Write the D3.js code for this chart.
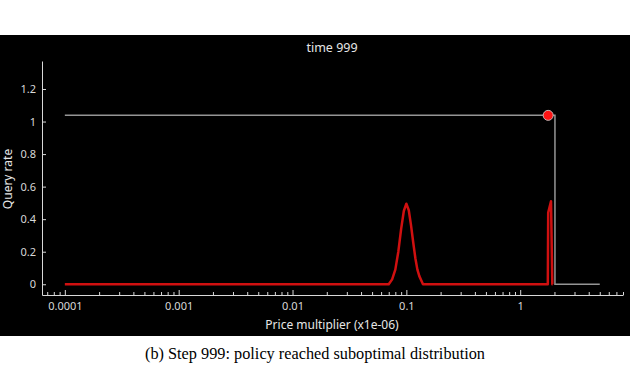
<!DOCTYPE html>
<html>
<head>
<meta charset="utf-8">
<script src="https://cdn.jsdelivr.net/npm/d3@7"></script>
<style>
  body { margin: 0; background: #fff; }
  svg { display: block; }
</style>
</head>
<body>
<div id="chart"></div>
<script>
'use strict';

// values
var xTickValues = [0.0001, 0.001, 0.01, 0.1, 1];
var xTickLabels = ["0.0001", "0.001", "0.01", "0.1", "1"];
var yTickValues = [0, 0.2, 0.4, 0.6, 0.8, 1, 1.2];
var yTickLabels = ["0", "0.2", "0.4", "0.6", "0.8", "1", "1.2"];

// grey step line (query rate curve)
var greyX = [0.0001, 2.02, 2.02, 5.0];
var greyY = [1.038, 1.038, 0, 0];

// red distribution line
var redX = [0.0001, 0.07, 0.075, 0.08, 0.085, 0.09, 0.095, 0.1, 0.105, 0.11, 0.115, 0.12, 0.125, 0.13, 0.14,
            1.748, 1.762, 1.865, 1.915, 1.93];
var redY = [0, 0, 0.03, 0.09, 0.2, 0.34, 0.45, 0.495, 0.455, 0.36, 0.255, 0.16, 0.09, 0.05, 0,
            0, 0.44, 0.51, 0, 0];

// current policy point
var dotX = [1.76];
var dotY = [1.038];

var title = "time 999";
var xLabel = "Price multiplier (x1e-06)";
var yLabel = "Query rate";
var caption = "(b) Step 999: policy reached suboptimal distribution";

var W = 630, H = 370;

var svg = d3.select("#chart").append("svg")
    .attr("width", W)
    .attr("height", H);

// black plot panel
svg.append("rect")
    .attr("x", 0).attr("y", 35)
    .attr("width", W).attr("height", 301)
    .attr("fill", "#000");

var x = d3.scaleLog().domain([6.3e-5, 8.0]).range([42, 623]);
var y = d3.scaleLinear().domain([-0.066, 1.372]).range([295, 61]);

var axisColor = "#d8d8d8";
var font = "'Noto Sans', 'Open Sans', sans-serif";

// x axis, ticks pointing inward
var xAxis = d3.axisBottom(x)
    .tickValues(x.ticks())
    .tickSizeInner(-3)
    .tickSizeOuter(0)
    .tickPadding(7)
    .tickFormat(function (d) {
        var i = xTickValues.findIndex(function (v) { return Math.abs(v - d) / v < 1e-9; });
        return i >= 0 ? xTickLabels[i] : "";
    });

var gx = svg.append("g")
    .attr("transform", "translate(0,295)")
    .call(xAxis);

gx.selectAll(".tick line")
    .attr("y2", function (d) {
        var major = xTickValues.some(function (v) { return Math.abs(v - d) / v < 1e-9; });
        return major ? -5 : -3;
    });

// y axis
var yAxis = d3.axisLeft(y)
    .tickValues(yTickValues)
    .tickSizeInner(-4)
    .tickSizeOuter(0)
    .tickPadding(6)
    .tickFormat(function (d, i) { return yTickLabels[i]; });

var gy = svg.append("g")
    .attr("transform", "translate(42,0)")
    .call(yAxis);

[gx, gy].forEach(function (g) {
    g.select(".domain").attr("stroke", axisColor).attr("stroke-width", 1);
    g.selectAll(".tick line").attr("stroke", axisColor);
    g.selectAll(".tick text")
        .attr("fill", axisColor)
        .style("font-family", font)
        .style("font-size", "11px");
});

// grey line
var greyLine = d3.line()
    .x(function (d, i) { return x(greyX[i]); })
    .y(function (d, i) { return y(greyY[i]); });

svg.append("path")
    .datum(greyX)
    .attr("d", greyLine)
    .attr("fill", "none")
    .attr("stroke", "#959595")
    .attr("stroke-width", 1.5);

// red line
var redLine = d3.line()
    .x(function (d, i) { return x(redX[i]); })
    .y(function (d, i) { return y(redY[i]); });

svg.append("path")
    .datum(redX)
    .attr("d", redLine)
    .attr("fill", "none")
    .attr("stroke", "#d01010")
    .attr("stroke-width", 2.5)
    .attr("stroke-linejoin", "round");

// policy point
svg.selectAll(".dot")
    .data(dotX)
    .enter().append("circle")
    .attr("class", "dot")
    .attr("cx", function (d) { return x(d); })
    .attr("cy", function (d, i) { return y(dotY[i]); })
    .attr("r", 5)
    .attr("fill", "#ff1414")
    .attr("stroke", "#c8b4b4")
    .attr("stroke-width", 1);

// texts
svg.append("text")
    .attr("x", 332).attr("y", 52)
    .attr("text-anchor", "middle")
    .attr("fill", "#e6e6e6")
    .style("font-family", font)
    .style("font-size", "12.5px")
    .text(title);

svg.append("text")
    .attr("x", 332).attr("y", 329)
    .attr("text-anchor", "middle")
    .attr("fill", "#e6e6e6")
    .style("font-family", font)
    .style("font-size", "12px")
    .text(xLabel);

svg.append("text")
    .attr("transform", "translate(12,179) rotate(-90)")
    .attr("text-anchor", "middle")
    .attr("fill", "#e6e6e6")
    .style("font-family", font)
    .style("font-size", "12px")
    .text(yLabel);

svg.append("text")
    .attr("x", 315).attr("y", 359)
    .attr("text-anchor", "middle")
    .attr("fill", "#000")
    .style("font-family", "'Liberation Serif', 'Times New Roman', serif")
    .style("font-size", "16.3px")
    .text(caption);
</script>
</body>
</html>
